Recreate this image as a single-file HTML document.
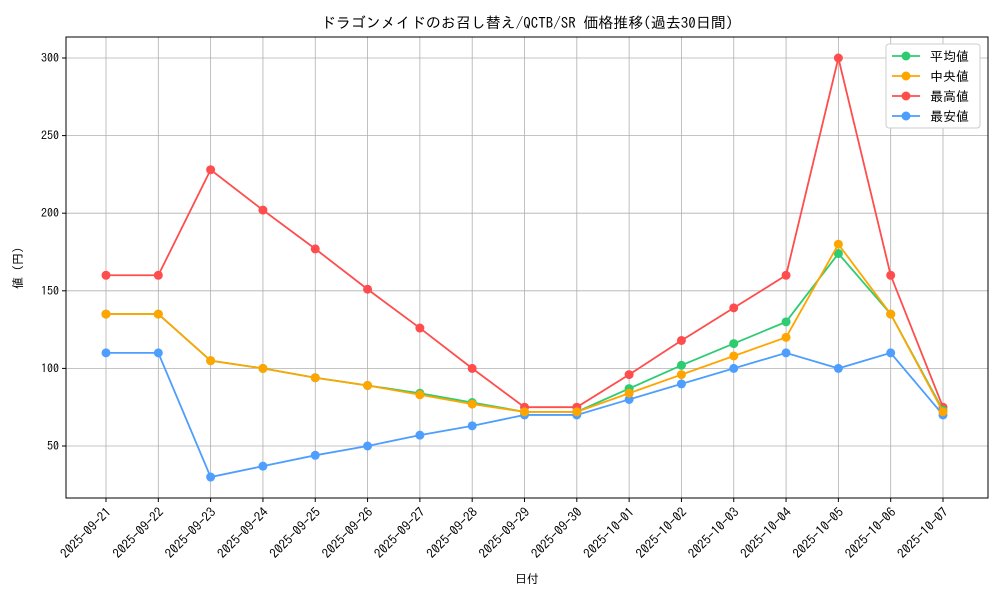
<!DOCTYPE html>
<html><head><meta charset="utf-8">
<style>
body{margin:0;background:#fff;}
svg text{font-family:"IPAGothic","Noto Sans CJK JP",sans-serif;fill:#000;}
</style></head>
<body>
<svg id="chart" width="1000" height="600" xmlns="http://www.w3.org/2000/svg"></svg>
<script>
const categories=["2025-09-21","2025-09-22","2025-09-23","2025-09-24","2025-09-25","2025-09-26","2025-09-27","2025-09-28","2025-09-29","2025-09-30","2025-10-01","2025-10-02","2025-10-03","2025-10-04","2025-10-05","2025-10-06","2025-10-07"];
const avgValues=[135,135,105,100,94,89,84,78,72,72,87,102,116,130,174,135,73];
const medianValues=[135,135,105,100,94,89,83,77,72,72,84,96,108,120,180,135,72];
const maxValues=[160,160,228,202,177,151,126,100,75,75,96,118,139,160,300,160,75];
const minValues=[110,110,30,37,44,50,57,63,70,70,80,90,100,110,100,110,70];
const yTicks=[50,100,150,200,250,300];
const seriesNames=["平均値","中央値","最高値","最安値"];
const seriesColors=["#2ecc71","#ffa500","#ff4d4d","#4d9eff"];

const NS="http://www.w3.org/2000/svg";
const svg=document.getElementById('chart');
const L=66,R=988,T=37,B=498;
const xScale=i=>106+i*(943-106)/(categories.length-1);
const yScale=v=>58+(300-v)*(446-58)/250;
function mk(tag,attrs,parent){const e=document.createElementNS(NS,tag);for(const k in attrs)e.setAttribute(k,attrs[k]);(parent||svg).appendChild(e);return e;}

categories.forEach((c,i)=>{
  const g=mk('line',{x1:xScale(i),x2:xScale(i),y1:T,y2:B,stroke:'#b0b0b0','stroke-width':0.8});
  
  
  mk('line',{x1:xScale(i),x2:xScale(i),y1:B,y2:B+4,stroke:'#000'});
  const t=mk('text',{x:0,y:0,'font-size':13,'text-anchor':'end',transform:`translate(${xScale(i)+6},${B+15}) rotate(-45)`});
  t.textContent=c;
  
  
});
yTicks.forEach(v=>{
  const g=mk('line',{x1:L,x2:R,y1:yScale(v),y2:yScale(v),stroke:'#b0b0b0','stroke-width':0.8});
  
  
  mk('line',{x1:L-4,x2:L,y1:yScale(v),y2:yScale(v),stroke:'#000'});
  const t=mk('text',{x:L-7,y:yScale(v)+4,'font-size':12,'text-anchor':'end'});
  t.textContent=v;
  
  
});
const frame=mk('rect',{x:L,y:T,width:R-L,height:B-T,fill:'none',stroke:'#000','stroke-width':1});



const all=[avgValues,medianValues,maxValues,minValues];
[2,3,0,1].forEach(si=>{
  const vals=all[si];
  const p=mk('polyline',{points:vals.map((v,i)=>xScale(i)+','+yScale(v)).join(' '),fill:'none',stroke:seriesColors[si],'stroke-width':1.8});
  
  
  vals.forEach((v,i)=>{
    const c=mk('circle',{cx:xScale(i),cy:yScale(v),r:4.5,fill:seriesColors[si]});
    
    
  });
});

const lg=mk('g',{});


mk('rect',{x:886,y:44,width:94,height:84,rx:3,fill:'#fff',stroke:'#ccc'},lg);
seriesNames.forEach((n,i)=>{
  const y=56+i*20;
  const e=mk('g',{},lg);
  
  
  mk('line',{x1:892,x2:920,y1:y,y2:y,stroke:seriesColors[i],'stroke-width':1.8},e);
  mk('circle',{cx:906,cy:y,r:4.5,fill:seriesColors[i]},e);
  const t=mk('text',{x:930,y:y+5,'font-size':13},e);
  t.textContent=n;
});

const title=mk('text',{x:527,y:28,'font-size':15,'text-anchor':'middle'});
title.textContent='ドラゴンメイドのお召し替え/QCTB/SR 価格推移(過去30日間)';


const xt=mk('text',{x:527,y:583,'font-size':12,'text-anchor':'middle'});
xt.textContent='日付';


const yt=mk('text',{x:0,y:0,'font-size':12,'text-anchor':'middle',transform:'translate(22,268) rotate(-90)'});
yt.textContent='値 (円)';


</script>
</body></html>
